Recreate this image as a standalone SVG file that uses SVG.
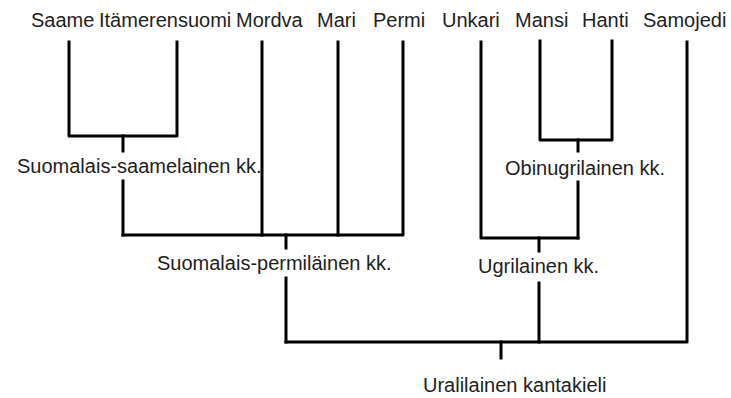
<svg xmlns="http://www.w3.org/2000/svg" width="731" height="398" viewBox="0 0 731 398">
  <style>
    text { font-family: "Liberation Sans", Arial, sans-serif; font-size: 20px; fill: #1e1e1e; }
    .link { fill: none; stroke: #000; stroke-width: 3; stroke-linecap: square; stroke-linejoin: round; }
  </style>
  <rect width="731" height="398" fill="#fff"/>

  <!-- Tree branches -->
  <g id="connectors" class="link">
    <!-- Suomalais-saamelainen -->
    <path d="M69 42 V136 H177 V42"/>
    <path d="M123 136 V151"/>
    <path d="M123 181 V235"/>
    <!-- Suomalais-permiläinen -->
    <path d="M123 235 H403 V42"/>
    <path d="M262 42 V235"/>
    <path d="M338 42 V235"/>
    <path d="M286 235 V248"/>
    <path d="M286 278 V342"/>
    <!-- Obinugrilainen -->
    <path d="M540 41 V140 H612 V41"/>
    <path d="M578 140 V151"/>
    <path d="M578 182 V238"/>
    <!-- Ugrilainen -->
    <path d="M481 42 V238 H578"/>
    <path d="M539 238 V251"/>
    <path d="M539 283 V342"/>
    <!-- Uralilainen -->
    <path d="M286 342 H687 V42"/>
    <path d="M501 342 V358"/>
  </g>

  <!-- Languages -->
  <g id="saame"><text x="31" y="27">Saame</text></g>
  <g id="itamerensuomi"><text x="99" y="27">Itämerensuomi</text></g>
  <g id="mordva"><text x="236" y="27">Mordva</text></g>
  <g id="mari"><text x="317" y="27">Mari</text></g>
  <g id="permi"><text x="373" y="27">Permi</text></g>
  <g id="unkari"><text x="442" y="27">Unkari</text></g>
  <g id="mansi"><text x="515" y="27">Mansi</text></g>
  <g id="hanti"><text x="582" y="27">Hanti</text></g>
  <g id="samojedi"><text x="643" y="27">Samojedi</text></g>

  <!-- Proto-languages -->
  <g id="suomalais-saamelainen"><text x="17" y="173">Suomalais-saamelainen kk.</text></g>
  <g id="suomalais-permilainen"><text x="157" y="270">Suomalais-permiläinen kk.</text></g>
  <g id="obinugrilainen"><text x="505" y="175">Obinugrilainen kk.</text></g>
  <g id="ugrilainen"><text x="478" y="273">Ugrilainen kk.</text></g>
  <g id="uralilainen"><text x="423" y="392">Uralilainen kantakieli</text></g>
</svg>
